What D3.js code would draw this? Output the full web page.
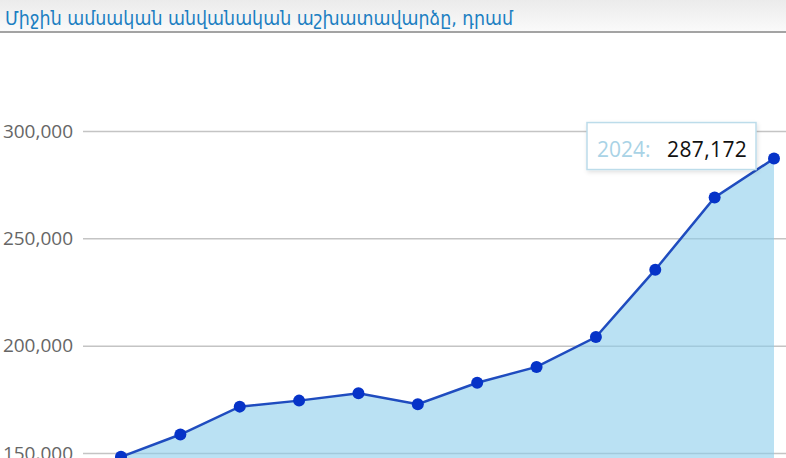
<!DOCTYPE html>
<html>
<head>
<meta charset="utf-8">
<script src="https://cdn.jsdelivr.net/npm/d3@7"></script>
<style>
  body { margin: 0; background: #fff; overflow: hidden; }
  svg { display: block; }
</style>
</head>
<body>
<div id="chart"></div>
<script>
// Data
var years = ["2013", "2014", "2015", "2016", "2017", "2018", "2019", "2020", "2021", "2022", "2023", "2024"];
var wages = [148200, 158600, 171600, 174400, 177800, 172700, 182700, 190100, 204000, 235400, 269000, 287172];
var yTicks = [150000, 200000, 250000, 300000];
var title = "Միջին ամսական անվանական աշխատավարձը, դրամ";

var svgWidth = 786;
var svgHeight = 458;

var svg = d3.select("#chart")
  .append("svg")
  .attr("width", svgWidth)
  .attr("height", svgHeight);

// title bar gradient
var defs = svg.append("defs");
var grad = defs.append("linearGradient")
  .attr("id", "titleGrad")
  .attr("x1", 0).attr("y1", 0).attr("x2", 0).attr("y2", 1);
grad.append("stop").attr("offset", "0%").attr("stop-color", "#ebebeb");
grad.append("stop").attr("offset", "100%").attr("stop-color", "#fafafa");

var shadow = defs.append("filter").attr("id", "tipShadow")
  .attr("x", "-10%").attr("y", "-10%").attr("width", "130%").attr("height", "140%");
shadow.append("feDropShadow")
  .attr("dx", 1).attr("dy", 2).attr("stdDeviation", 2)
  .attr("flood-color", "#000").attr("flood-opacity", 0.12);

svg.append("rect")
  .attr("x", 0).attr("y", 0)
  .attr("width", svgWidth).attr("height", 31)
  .attr("fill", "url(#titleGrad)");
svg.append("line")
  .attr("x1", 0).attr("x2", svgWidth)
  .attr("y1", 32).attr("y2", 32)
  .attr("stroke", "#a3a3a3")
  .attr("stroke-width", 2);

svg.append("text")
  .attr("x", 5)
  .attr("y", 25)
  .attr("fill", "#1c7fc2")
  .attr("textLength", 508)
  .attr("lengthAdjust", "spacingAndGlyphs")
  .style("font-family", "'DejaVu Sans', sans-serif")
  .style("font-size", "19px")
  .text(title);

// scales
var xScale = d3.scalePoint()
  .domain(years)
  .range([121, 774]);

var yScale = d3.scaleLinear()
  .domain([150000, 300000])
  .range([453, 131]);

// gridlines + labels
var leftAxis = d3.axisLeft(yScale)
  .tickValues(yTicks)
  .tickFormat(d3.format(","))
  .tickSizeInner(-(svgWidth - 83))
  .tickSizeOuter(0)
  .tickPadding(10);

var yAxis = svg.append("g")
  .attr("transform", "translate(83,0)")
  .call(leftAxis);
yAxis.select(".domain").remove();
yAxis.selectAll(".tick line")
  .attr("stroke", "#c4c4c4")
  .attr("stroke-width", 1.5);
yAxis.selectAll(".tick text")
  .attr("fill", "#666")
  .style("font-family", "'Open Sans', sans-serif")
  .style("font-size", "19px");

// area and line
var series = years.map(function(y, i) { return { year: y, value: wages[i] }; });

var area = d3.area()
  .x(function(d) { return xScale(d.year); })
  .y0(yScale(100000))
  .y1(function(d) { return yScale(d.value); });

var line = d3.line()
  .x(function(d) { return xScale(d.year); })
  .y(function(d) { return yScale(d.value); });

svg.append("path")
  .datum(series)
  .attr("d", area)
  .attr("fill", "rgb(140,205,235)")
  .attr("fill-opacity", 0.6);

svg.append("path")
  .datum(series)
  .attr("d", line)
  .attr("fill", "none")
  .attr("stroke", "#1f4cbf")
  .attr("stroke-width", 2.5);

svg.selectAll("circle.pt")
  .data(series)
  .enter()
  .append("circle")
  .attr("class", "pt")
  .attr("cx", function(d) { return xScale(d.year); })
  .attr("cy", function(d) { return yScale(d.value); })
  .attr("r", 6)
  .attr("fill", "#0633c8");

// tooltip on last point
var last = series[series.length - 1];
var tx = xScale(last.year) - 187;
var ty = yScale(last.value) - 36;

var tip = svg.append("g")
  .attr("transform", "translate(" + tx + "," + ty + ")");
tip.append("rect")
  .attr("x", 0).attr("y", 0)
  .attr("width", 169).attr("height", 47)
  .attr("fill", "#fff")
  .attr("stroke", "#bcdcea")
  .attr("stroke-width", 1.5)
  .attr("filter", "url(#tipShadow)");
tip.append("text")
  .attr("x", 10)
  .attr("y", 34)
  .attr("fill", "#a9d3e6")
  .style("font-family", "'Open Sans', sans-serif")
  .style("font-size", "21px")
  .text(last.year + ":");
tip.append("text")
  .attr("x", 80)
  .attr("y", 34)
  .attr("fill", "#111")
  .style("font-family", "'Open Sans', sans-serif")
  .style("font-size", "21px")
  .style("letter-spacing", "0.4px")
  .text(d3.format(",")(last.value));
</script>
</body>
</html>
